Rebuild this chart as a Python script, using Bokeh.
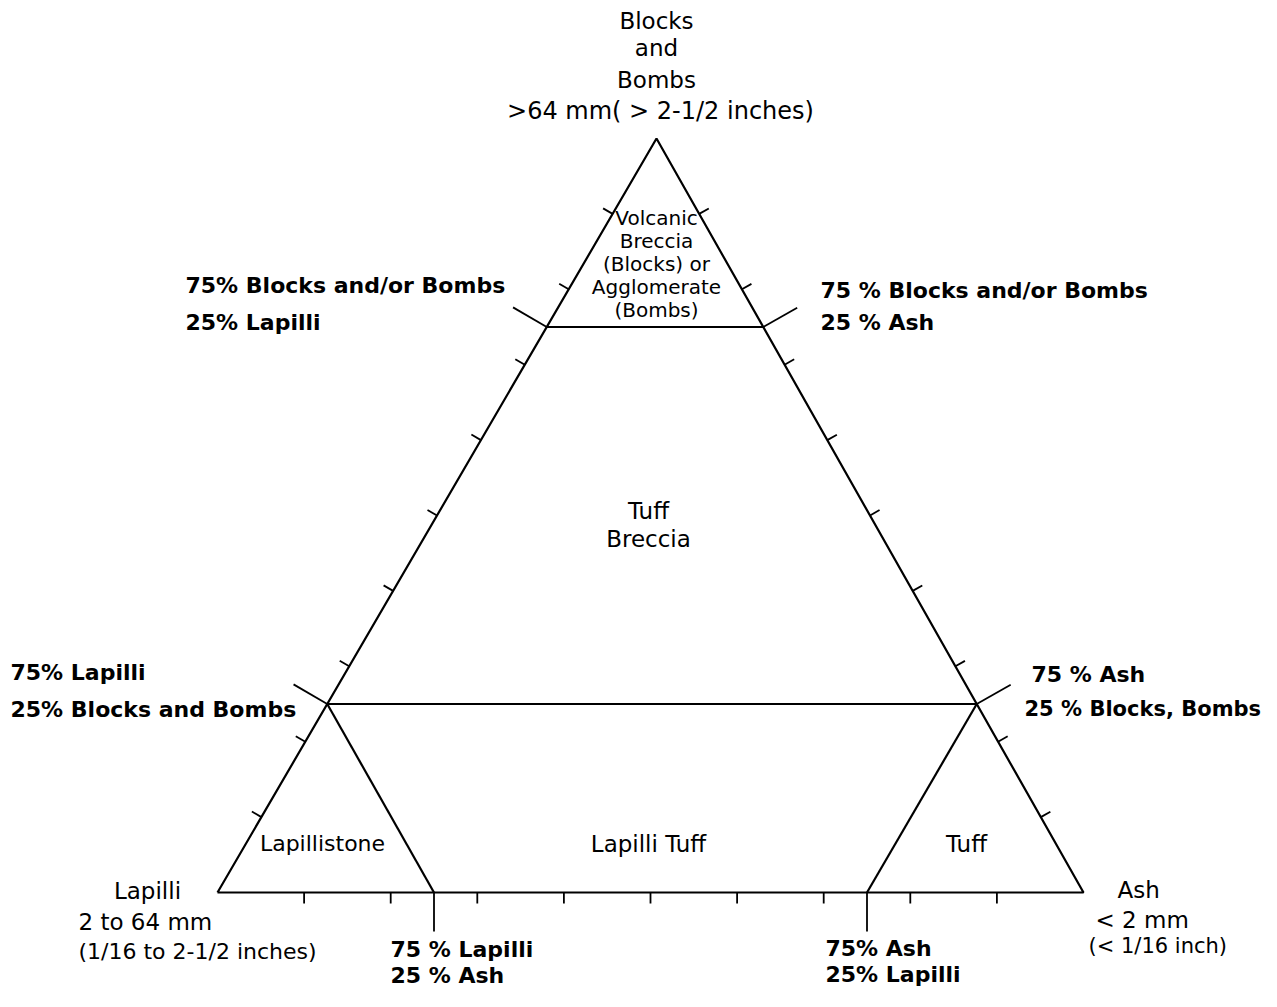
import numpy as np
from bokeh.plotting import figure
from bokeh.models import Range1d, ColumnDataSource
from bokeh.embed import file_html
from bokeh.resources import INLINE
from bokeh.core.properties import value

# ---------------- data ----------------
apex_top_lines = ["Blocks", "and", "Bombs", ">64 mm( > 2-1/2 inches)"]
apex_left_lines = ["Lapilli", "2 to 64 mm", "(1/16 to 2-1/2 inches)"]
apex_right_lines = ["Ash", "< 2 mm", "(< 1/16 inch)"]

class_limits = [0.25, 0.75]              # fraction of the dominant component
tick_percent = [10, 20, 30, 40, 50, 60, 70, 80, 90]

limit_top_left = ["75% Blocks and/or Bombs", "25% Lapilli"]
limit_top_right = ["75 % Blocks and/or Bombs", "25 % Ash"]
limit_mid_left = ["75% Lapilli", "25% Blocks and Bombs"]
limit_mid_right = ["75 % Ash", "25 % Blocks, Bombs"]
limit_bot_left = ["75 % Lapilli", "25 % Ash"]
limit_bot_right = ["75% Ash", "25% Lapilli"]

field_breccia = ["Volcanic", "Breccia", "(Blocks) or", "Agglomerate", "(Bombs)"]
field_tuff_breccia = ["Tuff", "Breccia"]
field_lapillistone = ["Lapillistone"]
field_lapilli_tuff = ["Lapilli Tuff"]
field_tuff = ["Tuff"]

# ---------------- layout ----------------
W, H = 1261, 991
T = np.array([656.0, 138.0])   # Blocks and Bombs apex
L = np.array([217.0, 892.0])   # Lapilli apex
A = np.array([1083.0, 892.0])  # Ash apex


def tern(b, l, a):
    return b * T + l * L + a * A


p = figure(width=W, height=H, output_backend="svg", toolbar_location=None,
           x_range=Range1d(0, W), y_range=Range1d(H, 0),
           min_border=0, outline_line_color=None)
p.axis.visible = False
p.grid.visible = False
p.background_fill_color = "white"
p.border_fill_color = "white"

LW = 2.2
# outer triangle
tri = [L, A, T, L]
p.line([q[0] for q in tri], [q[1] for q in tri], line_color="black", line_width=LW)

# class boundary lines
lo, hi = class_limits
segs = [
    (tern(hi, 1 - hi, 0), tern(hi, 0, 1 - hi)),   # 75% blocks
    (tern(lo, 1 - lo, 0), tern(lo, 0, 1 - lo)),   # 25% blocks
    (tern(lo, hi, 0), tern(0, hi, lo)),           # 75% lapilli
    (tern(lo, 0, hi), tern(0, lo, hi)),           # 75% ash
]
p.segment([s[0][0] for s in segs], [s[0][1] for s in segs],
          [s[1][0] for s in segs], [s[1][1] for s in segs],
          line_color="black", line_width=LW)

# ticks
sides = [(L, A, T), (L, T, A), (A, T, L)]
x0, y0, x1, y1 = [], [], [], []
for P0, P1, opp in sides:
    d = (P1 - P0) / np.linalg.norm(P1 - P0)
    n = np.array([-d[1], d[0]])
    mid = (P0 + P1) / 2
    if np.dot(n, opp - mid) > 0:
        n = -n
    for pc in tick_percent:
        f = pc / 100.0
        q = P0 + f * (P1 - P0)
        x0.append(q[0]); y0.append(q[1])
        e = q + 11 * n
        x1.append(e[0]); y1.append(e[1])
    for f in class_limits:
        q = P0 + f * (P1 - P0)
        x0.append(q[0]); y0.append(q[1])
        e = q + 39 * n
        x1.append(e[0]); y1.append(e[1])
p.segment(x0, y0, x1, y1, line_color="black", line_width=1.8)

SANS = value("DejaVu Sans")


def add_text(lines, x, y0, dy, align="left", size="22px", style="bold", font=SANS):
    src = ColumnDataSource(dict(x=[x] * len(lines),
                                y=[y0 + i * dy for i in range(len(lines))],
                                t=lines))
    p.text(x="x", y="y", text="t", source=src, text_font=font,
           text_font_size=size, text_align=align, text_baseline="middle",
           text_color="black", text_font_style=style)


# apex labels
add_text(apex_top_lines[:1], T[0], 20, 0, align="center", size="23px", style="normal")
add_text(apex_top_lines[1:2], T[0], 47, 0, align="center", size="23px", style="normal")
add_text(apex_top_lines[2:3], T[0], 79, 0, align="center", size="23px", style="normal")
add_text(apex_top_lines[3:], T[0] + 4, 110, 0, align="center", size="24px", style="normal")
add_text(apex_left_lines[:1], 147, 890, 0, align="center", size="23px", style="normal")
add_text(apex_left_lines[1:2], 78, 921, 0, align="left", size="23px", style="normal")
add_text(apex_left_lines[2:], 78, 951, 0, align="left", size="22px", style="normal")
add_text(apex_right_lines[:1], 1117, 889, 0, align="left", size="23px", style="normal")
add_text(apex_right_lines[1:2], 1095, 919, 0, align="left", size="23px", style="normal")
add_text(apex_right_lines[2:], 1088, 945, 0, align="left", size="21px", style="normal")

# boundary labels
add_text(limit_top_left, 185, 285, 37)
add_text(limit_top_right, 820, 290, 32)
add_text(limit_mid_left, 10, 672, 37)
add_text(limit_mid_right[:1], 1031, 674, 0)
add_text(limit_mid_right[1:], 1024, 708, 0, size="21px")
add_text(limit_bot_left, 390, 949, 26)
add_text(limit_bot_right, 825, 948, 26)

# field labels
add_text(field_breccia, T[0], 217, 23, align="center", size="20px", style="normal")
add_text(field_tuff_breccia, 648, 510, 28, align="center", size="23px", style="normal")
add_text(field_lapillistone, 322, 843, 0, align="center", size="22px", style="normal")
add_text(field_lapilli_tuff, 648, 843, 0, align="center", size="23px", style="normal")
add_text(field_tuff, 966, 843, 0, align="center", size="23px", style="normal")

open("out.html", "w").write(file_html(p, INLINE))
